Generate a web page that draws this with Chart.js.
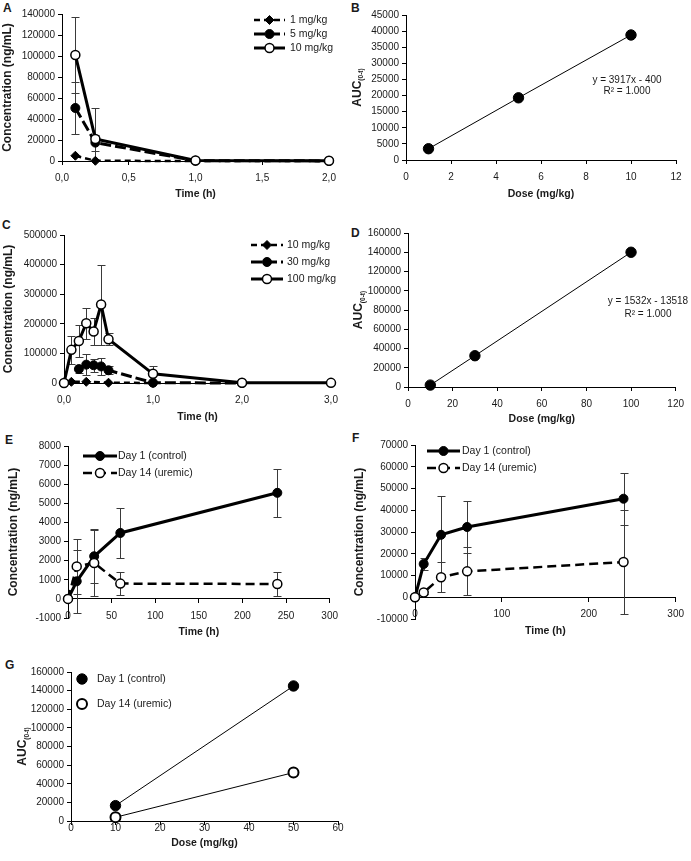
<!DOCTYPE html>
<html>
<head>
<meta charset="utf-8">
<script src="https://cdn.jsdelivr.net/npm/chart.js@4.4.1/dist/chart.umd.min.js"></script>
<style>
  body { margin: 0; background: #fff; }
  #lienzo { position: relative; width: 691px; height: 861px; overflow: hidden; background: #fff; }
  canvas { position: absolute; }
  .letra { position: absolute; font: bold 12px "Liberation Sans", Arial, sans-serif; line-height: 1; color: #1a1a1a; }
</style>
</head>
<body>
<div id="lienzo">
  <div class="letra" style="left:3px;top:2px">A</div>
  <div class="letra" style="left:351px;top:2px">B</div>
  <div class="letra" style="left:2px;top:219px">C</div>
  <div class="letra" style="left:351px;top:227px">D</div>
  <div class="letra" style="left:5px;top:434px">E</div>
  <div class="letra" style="left:352px;top:432px">F</div>
  <div class="letra" style="left:5px;top:659px">G</div>
  <canvas id="gA"></canvas>
  <canvas id="gB"></canvas>
  <canvas id="gC"></canvas>
  <canvas id="gD"></canvas>
  <canvas id="gE"></canvas>
  <canvas id="gF"></canvas>
  <canvas id="gG"></canvas>
</div>
<script>
// ---- datos ----
// A: concentracion vs tiempo (1, 5, 10 mg/kg)
const tiemposA = [0.1, 0.25, 1, 2];
const conc1A = [5000, 200, 0, 0];
const err1A = [0, 0, 0, 0];
const conc5A = [50500, 17500, 300, 100];
const err5A = [25000, 7500, 0, 0];
const conc10A = [101000, 21000, 500, 300];
const err10A = [36500, 29000, 0, 0];

// B: AUC vs dosis
const dosisB = [1, 5, 10];
const aucB = [3500, 19300, 38800];
const ecuacionB = ['y = 3917x - 400', 'R² = 1.000'];

// C: concentracion vs tiempo (10, 30, 100 mg/kg)
const tiempos10C = [0, 0.083, 0.25, 0.5, 1];
const conc10C = [0, 4000, 4000, 1000, 0];
const tiempos30C = [0.167, 0.25, 0.333, 0.417, 0.5, 1, 2];
const conc30C = [47000, 62000, 60000, 56000, 43000, 1000, 0];
const err30C = [14000, 36000, 22000, 28000, 14000, 0, 0];
const tiempos100C = [0, 0.083, 0.167, 0.25, 0.333, 0.417, 0.5, 1, 2, 3];
const conc100C = [0, 112000, 142000, 202000, 174000, 265000, 148000, 31000, 1000, 500];
const err100C = [0, 48000, 53000, 52000, 47000, 135000, 21000, 27000, 0, 0];

// D: AUC vs dosis
const dosisD = [10, 30, 100];
const aucD = [2000, 32500, 140000];
const ecuacionD = ['y = 1532x - 13518', 'R² = 1.000'];

// E: dia 1 vs dia 14
const tiemposE = [0, 10, 30, 60, 240];
const dia1E = [0, 920, 2230, 3450, 5550];
const errDia1E = [0, 1650, 1420, 1310, 1240];
const dia14E = [0, 1700, 1880, 800, 780];
const errDia14E = [0, 1450, 1750, 600, 640];

// F: dia 1 vs dia 14
const tiemposF = [0, 10, 30, 60, 240];
const dia1F = [0, 15300, 28700, 32300, 45300];
const errDia1F = [0, 2700, 18000, 12000, 12000];
const dia14F = [0, 2200, 9200, 11900, 16200];
const errDia14F = [0, 800, 7000, 11000, 24000];

// G: AUC vs dosis
const dosisG = [10, 50];
const aucDia1G = [16500, 145000];
const aucDia14G = [4000, 52000];

const FUENTE = '"Liberation Sans", Arial, sans-serif';
const TINTA = '#1a1a1a';
const coma = v => v.toFixed(1).replace('.', ',');

// barras de error (simetricas) dibujadas con las escalas del grafico
const barrasError = {
  id: 'barrasError',
  beforeDatasetsDraw(chart) {
    const { ctx, chartArea, scales: { x, y } } = chart;
    ctx.save();
    ctx.beginPath();
    ctx.rect(chartArea.left, chartArea.top - 1, chartArea.width, chartArea.height + 1);
    ctx.clip();
    ctx.strokeStyle = '#3a3a3a';
    ctx.lineWidth = 1;
    chart.data.datasets.forEach(ds => {
      if (!ds.errores) return;
      ds.data.forEach((p, i) => {
        const e = ds.errores[i];
        if (!e) return;
        const px = Math.round(x.getPixelForValue(p.x)) + 0.5;
        const arriba = Math.round(y.getPixelForValue(p.y + e)) + 0.5;
        const abajo = Math.round(y.getPixelForValue(p.y - e)) + 0.5;
        ctx.beginPath();
        ctx.moveTo(px, arriba); ctx.lineTo(px, abajo);
        ctx.moveTo(px - 4, arriba); ctx.lineTo(px + 4, arriba);
        ctx.moveTo(px - 4, abajo); ctx.lineTo(px + 4, abajo);
        ctx.stroke();
      });
    });
    ctx.restore();
  }
};

// leyenda estilo excel: linea + marcador + texto
const leyenda = {
  id: 'leyenda',
  afterDatasetsDraw(chart, args, o) {
    if (!o || o.x === undefined) return;
    const ctx = chart.ctx;
    chart.data.datasets.forEach((ds, i) => {
      const y = o.y + i * o.fila;
      ctx.save();
      if (o.largo) {
        ctx.strokeStyle = '#000';
        ctx.lineWidth = ds.borderWidth;
        ctx.setLineDash(ds.borderDash || []);
        ctx.beginPath();
        ctx.moveTo(o.x, y); ctx.lineTo(o.x + o.largo, y);
        ctx.stroke();
      }
      ctx.setLineDash([]);
      ctx.fillStyle = ds.pointBackgroundColor;
      ctx.strokeStyle = ds.pointBorderColor;
      ctx.lineWidth = ds.pointBorderWidth;
      Chart.helpers.drawPoint(ctx, { pointStyle: ds.pointStyle, radius: ds.pointRadius, borderWidth: ds.pointBorderWidth, rotation: 0 }, o.x + o.largo / 2, y);
      ctx.fillStyle = TINTA;
      ctx.font = '10.5px ' + FUENTE;
      ctx.textBaseline = 'middle';
      ctx.textAlign = 'left';
      ctx.fillText(ds.label, o.x + o.largo + o.hueco, y);
      ctx.restore();
    });
  }
};

// texto de la regresion
const anotacion = {
  id: 'anotacion',
  afterDraw(chart, args, o) {
    if (!o || !o.lineas) return;
    const ctx = chart.ctx;
    ctx.save();
    ctx.fillStyle = TINTA;
    ctx.font = '10px ' + FUENTE;
    ctx.textAlign = 'center';
    ctx.textBaseline = 'middle';
    o.lineas.forEach((t, i) => ctx.fillText(t, o.x, o.y + i * o.fila));
    ctx.restore();
  }
};

// titulo vertical con subindice: AUC(0-t)
const tituloAUC = {
  id: 'tituloAUC',
  afterDraw(chart, args, o) {
    if (!o || !o.texto) return;
    const { ctx, chartArea } = chart;
    ctx.save();
    ctx.translate(o.x, (chartArea.top + chartArea.bottom) / 2);
    ctx.rotate(-Math.PI / 2);
    ctx.fillStyle = TINTA;
    ctx.textBaseline = 'alphabetic';
    ctx.font = 'bold 12px ' + FUENTE;
    const w1 = ctx.measureText(o.texto).width;
    ctx.font = 'bold 6.5px ' + FUENTE;
    const w2 = ctx.measureText(o.sub).width;
    const x0 = -(w1 + w2) / 2;
    ctx.font = 'bold 12px ' + FUENTE;
    ctx.fillText(o.texto, x0, 4.5);
    ctx.font = 'bold 6.5px ' + FUENTE;
    ctx.fillText(o.sub, x0 + w1, 7);
    ctx.restore();
  }
};

function escala(o) {
  const horizontal = o.alto !== undefined || o.posicion;
  const e = {
    type: 'linear',
    min: o.min,
    max: o.max,
    ticks: {
      stepSize: o.paso, autoSkip: false, maxRotation: 0, padding: o.pad,
      color: TINTA, font: { family: FUENTE, size: 10 },
      callback: o.fmt || (v => String(v))
    },
    grid: { display: true, drawOnChartArea: false, drawTicks: true, tickLength: 4, color: '#000', lineWidth: 1 },
    border: { display: true, color: '#000', width: 1 },
    title: {
      display: !!o.titulo, text: o.titulo || '', color: TINTA,
      font: { family: FUENTE, size: horizontal ? 10.5 : 12, weight: 'bold', lineHeight: 1.2 },
      padding: { top: o.tpad || 0, bottom: 0 }
    },
    afterFit: s => {
      if (o.ancho !== undefined) s.width = o.ancho;
      if (o.alto !== undefined) s.height = o.alto;
    }
  };
  if (o.posicion) e.position = o.posicion;
  return e;
}

const marcas = {
  rombo: { pointStyle: 'rectRot', pointRadius: 4.5, pointBackgroundColor: '#000', pointBorderColor: '#000', pointBorderWidth: 1 },
  lleno: { pointStyle: 'circle', pointRadius: 4.5, pointBackgroundColor: '#000', pointBorderColor: '#000', pointBorderWidth: 1 },
  vacio: { pointStyle: 'circle', pointRadius: 4.5, pointBackgroundColor: '#fff', pointBorderColor: '#000', pointBorderWidth: 1.5 },
  llenoG: { pointStyle: 'circle', pointRadius: 5.2, pointBackgroundColor: '#000', pointBorderColor: '#000', pointBorderWidth: 1 },
  vacioG: { pointStyle: 'circle', pointRadius: 5, pointBackgroundColor: '#fff', pointBorderColor: '#000', pointBorderWidth: 2 }
};

function serie(label, xs, ys, errs, marca, linea, orden) {
  return Object.assign({
    label,
    data: xs.map((x, i) => ({ x, y: ys[i] })),
    errores: errs,
    showLine: true,
    borderColor: '#000',
    backgroundColor: '#000',
    tension: 0,
    order: orden,
    clip: false,
    pointHoverRadius: 0
  }, marcas[marca], linea);
}

function panel(id, caja, area, datos, xo, yo, extra) {
  const cv = document.getElementById(id);
  cv.width = caja.w; cv.height = caja.h;
  cv.style.left = caja.left + 'px';
  cv.style.top = caja.top + 'px';
  const cruza = !!xo.posicion;
  if (!cruza) xo.alto = caja.top + caja.h - area.B;
  yo.ancho = area.L - caja.left;
  return new Chart(cv, {
    type: 'scatter',
    data: { datasets: datos },
    options: {
      responsive: false, animation: false, events: [], devicePixelRatio: 1,
      layout: { padding: { left: 0, top: area.T - caja.top, right: caja.left + caja.w - area.R, bottom: cruza ? caja.top + caja.h - area.B : 0 } },
      scales: { x: escala(xo), y: escala(yo) },
      plugins: Object.assign({ legend: { display: false }, tooltip: { enabled: false } }, extra)
    },
    plugins: [barrasError, leyenda, anotacion, tituloAUC]
  });
}

const gruesa = { borderWidth: 3 };
const corta = { borderWidth: 2.5, borderDash: [6, 4] };
const larga = { borderWidth: 3, borderDash: [11, 4] };
const discont = { borderWidth: 2.5, borderDash: [9, 5] };
const fina = { borderWidth: 1 };

// A
panel('gA', { left: 0, top: 0, w: 345, h: 200 }, { L: 62, R: 329, T: 14, B: 161 }, [
  serie('1 mg/kg', tiemposA, conc1A, err1A, 'rombo', corta, 2),
  serie('5 mg/kg', tiemposA, conc5A, err5A, 'lleno', larga, 1),
  serie('10 mg/kg', tiemposA, conc10A, err10A, 'vacio', gruesa, 0)
], { min: 0, max: 2, paso: 0.5, pad: 7, fmt: coma, titulo: 'Time (h)' },
   { min: 0, max: 140000, paso: 20000, pad: 3, titulo: 'Concentration (ng/mL)', tpad: 0.8 },
   { leyenda: { x: 254, y: 20, fila: 14, largo: 31, hueco: 5 } });

// B
panel('gB', { left: 345, top: 0, w: 346, h: 200 }, { L: 406, R: 676, T: 15, B: 160 }, [
  serie('AUC', dosisB, aucB, null, 'llenoG', fina, 0)
], { min: 0, max: 12, paso: 2, pad: 7, titulo: 'Dose (mg/kg)' },
   { min: 0, max: 45000, paso: 5000, pad: 3 },
   { anotacion: { lineas: ecuacionB, x: 282, y: 80, fila: 11 }, tituloAUC: { texto: 'AUC', sub: '(0-t)', x: 11 } });

// C
panel('gC', { left: 0, top: 200, w: 345, h: 223 }, { L: 64, R: 331, T: 235, B: 383 }, [
  serie('10 mg/kg', tiempos10C, conc10C, null, 'rombo', corta, 2),
  serie('30 mg/kg', tiempos30C, conc30C, err30C, 'lleno', larga, 1),
  serie('100 mg/kg', tiempos100C, conc100C, err100C, 'vacio', gruesa, 0)
], { min: 0, max: 3, paso: 1, pad: 7, fmt: coma, titulo: 'Time (h)' },
   { min: 0, max: 500000, paso: 100000, pad: 3, titulo: 'Concentration (ng/mL)', tpad: 1.8 },
   { leyenda: { x: 251, y: 45, fila: 17, largo: 32, hueco: 4 } });

// D
panel('gD', { left: 345, top: 200, w: 346, h: 225 }, { L: 408, R: 678, T: 233, B: 387 }, [
  serie('AUC', dosisD, aucD, null, 'llenoG', fina, 0)
], { min: 0, max: 120, paso: 20, pad: 7, titulo: 'Dose (mg/kg)' },
   { min: 0, max: 160000, paso: 20000, pad: 3 },
   { anotacion: { lineas: ecuacionD, x: 303, y: 101.5, fila: 13 }, tituloAUC: { texto: 'AUC', sub: '(0-t)', x: 12.5 } });

// E
panel('gE', { left: 0, top: 420, w: 345, h: 222 }, { L: 68, R: 334, T: 446, B: 618 }, [
  serie('Day 1 (control)', tiemposE, dia1E, errDia1E, 'lleno', gruesa, 1),
  serie('Day 14 (uremic)', tiemposE, dia14E, errDia14E, 'vacio', discont, 0)
], { min: 0, max: 300, paso: 50, pad: 7, titulo: 'Time (h)', posicion: { y: 0 }, alto: 39.3 },
   { min: -1000, max: 8000, paso: 1000, pad: 3, titulo: 'Concentration (ng/mL)', tpad: 6.8 },
   { leyenda: { x: 83, y: 36, fila: 17, largo: 34, hueco: 1 } });

// F
panel('gF', { left: 345, top: 420, w: 346, h: 222 }, { L: 415, R: 679, T: 445, B: 619 }, [
  serie('Day 1 (control)', tiemposF, dia1F, errDia1F, 'lleno', gruesa, 1),
  serie('Day 14 (uremic)', tiemposF, dia14F, errDia14F, 'vacio', discont, 0)
], { min: 0, max: 300, paso: 100, pad: 7, titulo: 'Time (h)', posicion: { y: 0 }, alto: 40.3 },
   { min: -10000, max: 70000, paso: 10000, pad: 3, titulo: 'Concentration (ng/mL)', tpad: 7.8 },
   { leyenda: { x: 82, y: 31, fila: 17, largo: 33, hueco: 2 } });

// G
panel('gG', { left: 0, top: 640, w: 345, h: 209 }, { L: 71, R: 340, T: 672, B: 821 }, [
  serie('Day 1 (control)', dosisG, aucDia1G, null, 'llenoG', fina, 1),
  serie('Day 14 (uremic)', dosisG, aucDia14G, null, 'vacioG', fina, 0)
], { min: 0, max: 60, paso: 10, pad: -3, titulo: 'Dose (mg/kg)' },
   { min: 0, max: 160000, paso: 20000, pad: 3 },
   { leyenda: { x: 82, y: 39, fila: 25, largo: 0, hueco: 15 }, tituloAUC: { texto: 'AUC', sub: '(0-t)', x: 21.5 } });
</script>
</body>
</html>
